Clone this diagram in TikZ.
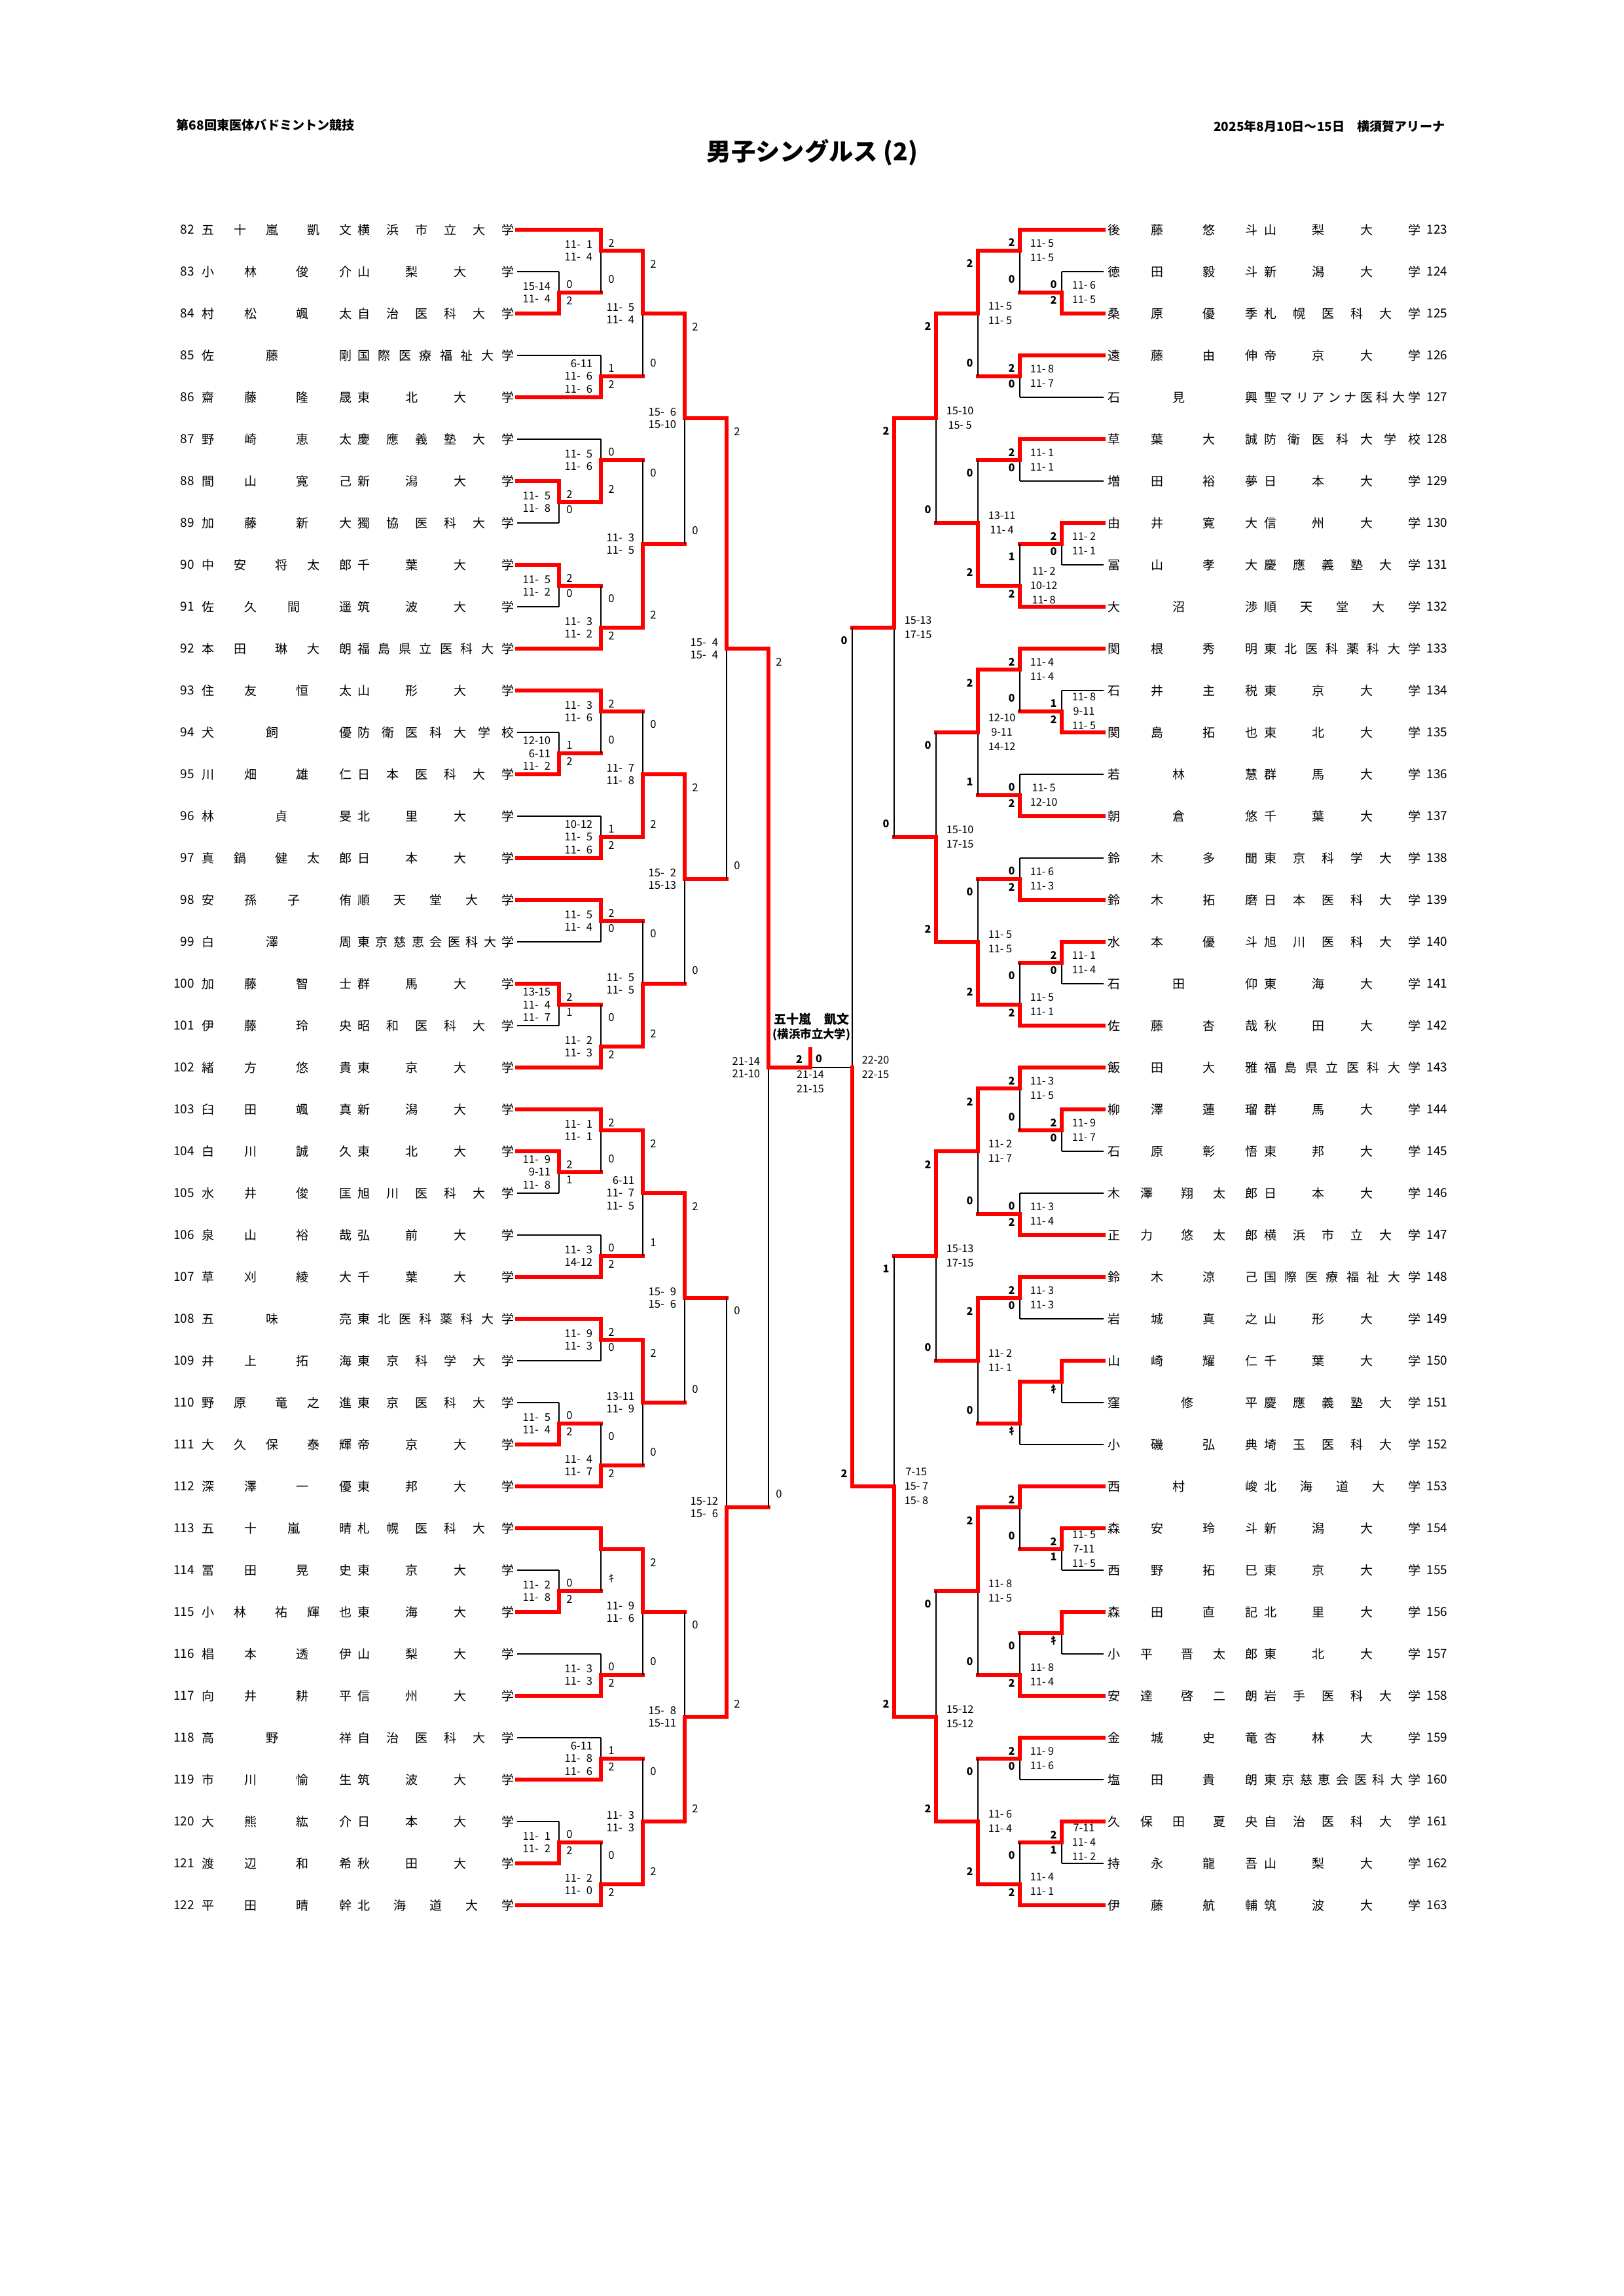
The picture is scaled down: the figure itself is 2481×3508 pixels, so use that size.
\documentclass[tikz,border=0pt]{standalone}
\usepackage{fontspec}
\setmainfont{Noto Sans CJK JP}

% spread the characters of a name over a fixed box, as the sheet does
\makeatletter
\def\spreadchars#1{\spread@step#1\relax}
\def\spread@step#1#2{#1\ifx\relax#2\else\hfill\expandafter\spread@step\expandafter#2\fi}
\makeatother
\newcommand\playername[2]{\hbox to 19.389mm{\expandafter\spreadchars\expandafter{#1}\hfill\kern1.164mm\expandafter\spreadchars\expandafter{#2}}}
\newcommand\schoolname[1]{\hbox to 20.278mm{\expandafter\spreadchars\expandafter{#1}}}

\begin{document}
\begin{tikzpicture}[x=0.0846667mm, y=-0.0846667mm,
  won/.style={draw=red, line width=1.35pt, line cap=rect},
  lost/.style={draw=black, line width=0.4pt},
  namefont/.style={inner sep=0pt, font=\fontsize{4.58}{5}\selectfont},
  lgame/.style={inner sep=0pt, font=\fontsize{4}{5}\selectfont},
  rgame/.style={inner sep=0pt, font=\fontsize{3.9}{5}\selectfont\bfseries},
  lscore/.style={inner sep=0pt, anchor=east, align=right, font={\fontsize{4}{4.6}\selectfont\spaceskip=0.553em\relax}},
  rscore/.style={inner sep=0pt, anchor=west, align=center, font=\fontsize{3.9}{5.3}\selectfont},
]
\useasboundingbox (0,0) rectangle (2481,3508);

% heading
\node[anchor=west, inner sep=0pt, font=\fontsize{4.6}{5}\selectfont\bfseries] (event) at (269,191) {第68回東医体バドミントン競技};
\node[anchor=east, inner sep=0pt, font=\fontsize{4.6}{5}\selectfont\bfseries] (venue) at (2208,193) {2025年8月10日～15日　横須賀アリーナ};
\node[inner sep=0pt, font=\fontsize{9}{10}\selectfont\bfseries] (title) at (1241,233) {男子シングルス (2)};

% left half: players
\foreach \rowno/\famn/\givn/\univ/\lev/\res in {
 82/五十嵐/凱文/横浜市立大学/2/won, 83/小林/俊介/山梨大学/1/lost,
 84/村松/颯太/自治医科大学/1/won, 85/佐藤/剛/国際医療福祉大学/2/lost,
 86/齋藤/隆晟/東北大学/2/won, 87/野崎/恵太/慶應義塾大学/2/lost,
 88/間山/寛己/新潟大学/1/won, 89/加藤/新大/獨協医科大学/1/lost,
 90/中安/将太郎/千葉大学/1/won, 91/佐久間/遥/筑波大学/1/lost,
 92/本田/琳大朗/福島県立医科大学/2/won, 93/住友/恒太/山形大学/2/won,
 94/犬飼/優/防衛医科大学校/1/lost, 95/川畑/雄仁/日本医科大学/1/won,
 96/林/貞旻/北里大学/2/lost, 97/真鍋/健太郎/日本大学/2/won,
 98/安孫子/侑/順天堂大学/2/won, 99/白澤/周/東京慈恵会医科大学/2/lost,
 100/加藤/智士/群馬大学/1/won, 101/伊藤/玲央/昭和医科大学/1/lost,
 102/緒方/悠貴/東京大学/2/won, 103/臼田/颯真/新潟大学/2/won,
 104/白川/誠久/東北大学/1/won, 105/水井/俊匡/旭川医科大学/1/lost,
 106/泉山/裕哉/弘前大学/2/lost, 107/草刈/綾大/千葉大学/2/won,
 108/五味/亮/東北医科薬科大学/2/won, 109/井上/拓海/東京科学大学/2/lost,
 110/野原/竜之進/東京医科大学/1/lost, 111/大久保/泰輝/帝京大学/1/won,
 112/深澤/一優/東邦大学/2/won, 113/五十嵐/晴/札幌医科大学/2/won,
 114/冨田/晃史/東京大学/1/lost, 115/小林/祐輝也/東海大学/1/won,
 116/椙本/透伊/山梨大学/2/lost, 117/向井/耕平/信州大学/2/won,
 118/高野/祥/自治医科大学/2/lost, 119/市川/愉生/筑波大学/2/won,
 120/大熊/紘介/日本大学/1/lost, 121/渡辺/和希/秋田大学/1/won,
 122/平田/晴幹/北海道大学/2/won}{
  \pgfmathsetmacro\yy{351+64*(\rowno-82)}
  \node[namefont, anchor=east] (no\rowno) at (297.5,\yy) {\rowno};
  \node[namefont, anchor=west] (pl\rowno) at (307.5,\yy) {\playername{\famn}{\givn}};
  \node[namefont, anchor=west] (un\rowno) at (545.5,\yy) {\schoolname{\univ}};
  \draw[\res] (790,\yy) -- ({790+64*\lev},\yy);
}

% right half: players
\foreach \rowno/\famn/\givn/\univ/\lev/\res in {
 123/後藤/悠斗/山梨大学/2/won, 124/徳田/毅斗/新潟大学/1/lost,
 125/桑原/優季/札幌医科大学/1/won, 126/遠藤/由伸/帝京大学/2/won,
 127/石見/興/聖マリアンナ医科大学/2/lost, 128/草葉/大誠/防衛医科大学校/2/won,
 129/増田/裕夢/日本大学/2/lost, 130/由井/寛大/信州大学/1/won,
 131/冨山/孝大/慶應義塾大学/1/lost, 132/大沼/渉/順天堂大学/2/won,
 133/関根/秀明/東北医科薬科大学/2/won, 134/石井/主税/東京大学/1/lost,
 135/関島/拓也/東北大学/1/won, 136/若林/慧/群馬大学/2/lost,
 137/朝倉/悠/千葉大学/2/won, 138/鈴木/多聞/東京科学大学/2/lost,
 139/鈴木/拓磨/日本医科大学/2/won, 140/水本/優斗/旭川医科大学/1/won,
 141/石田/仰/東海大学/1/lost, 142/佐藤/杏哉/秋田大学/2/won,
 143/飯田/大雅/福島県立医科大学/2/won, 144/柳澤/蓮瑠/群馬大学/1/won,
 145/石原/彰悟/東邦大学/1/lost, 146/木澤/翔太郎/日本大学/2/lost,
 147/正力/悠太郎/横浜市立大学/2/won, 148/鈴木/涼己/国際医療福祉大学/2/won,
 149/岩城/真之/山形大学/2/lost, 150/山崎/耀仁/千葉大学/1/won,
 151/窪/修平/慶應義塾大学/1/lost, 152/小磯/弘典/埼玉医科大学/2/lost,
 153/西村/峻/北海道大学/2/won, 154/森安/玲斗/新潟大学/1/won,
 155/西野/拓巳/東京大学/1/lost, 156/森田/直記/北里大学/1/won,
 157/小平/晋太郎/東北大学/1/lost, 158/安達/啓二朗/岩手医科大学/2/won,
 159/金城/史竜/杏林大学/2/won, 160/塩田/貴朗/東京慈恵会医科大学/2/lost,
 161/久保田/夏央/自治医科大学/1/won, 162/持永/龍吾/山梨大学/1/lost,
 163/伊藤/航輔/筑波大学/2/won}{
  \pgfmathsetmacro\yy{351+64*(\rowno-123)}
  \node[namefont, anchor=west] (no\rowno) at (2179,\yy) {\rowno};
  \node[namefont, anchor=west] (pl\rowno) at (1692.1,\yy) {\playername{\famn}{\givn}};
  \node[namefont, anchor=west] (un\rowno) at (1930.4,\yy) {\schoolname{\univ}};
  \draw[\res] (1686,\yy) -- ({1686-64*\lev},\yy);
}

% left half: matches (round / winner slot / loser slot / joint / games top / games bottom / scores)
\foreach \k/\ws/\ls/\jn/\gtop/\gbot/\scores [count=\i] in {
 1/2/1/1.5/0/2/{15-14\\11- 4}, 2/0/1.5/0.5/2/0/{11- 1\\11- 4},
 2/4/3/3.5/1/2/{6-11\\11- 6\\11- 6}, 3/0.5/3.5/2/2/0/{11- 5\\11- 4},
 1/6/7/6.5/2/0/{11- 5\\11- 8}, 2/6.5/5/5.5/0/2/{11- 5\\11- 6},
 1/8/9/8.5/2/0/{11- 5\\11- 2}, 2/10/8.5/9.5/0/2/{11- 3\\11- 2},
 3/9.5/5.5/7.5/0/2/{11- 3\\11- 5}, 4/2/7.5/4.5/2/0/{15- 6\\15-10},
 1/13/12/12.5/1/2/{12-10\\6-11\\11- 2}, 2/11/12.5/11.5/2/0/{11- 3\\11- 6},
 2/15/14/14.5/1/2/{10-12\\11- 5\\11- 6}, 3/14.5/11.5/13/0/2/{11- 7\\11- 8},
 2/16/17/16.5/2/0/{11- 5\\11- 4}, 1/18/19/18.5/2/1/{13-15\\11- 4\\11- 7},
 2/20/18.5/19.5/0/2/{11- 2\\11- 3}, 3/19.5/16.5/18/0/2/{11- 5\\11- 5},
 4/13/18/15.5/2/0/{15- 2\\15-13}, 5/4.5/15.5/10/2/0/{15- 4\\15- 4},
 1/22/23/22.5/2/1/{11- 9\\9-11\\11- 8}, 2/21/22.5/21.5/2/0/{11- 1\\11- 1},
 2/25/24/24.5/0/2/{11- 3\\14-12}, 3/21.5/24.5/23/2/1/{6-11\\11- 7\\11- 5},
 2/26/27/26.5/2/0/{11- 9\\11- 3}, 1/29/28/28.5/0/2/{11- 5\\11- 4},
 2/30/28.5/29.5/0/2/{11- 4\\11- 7}, 3/26.5/29.5/28/2/0/{13-11\\11- 9},
 4/23/28/25.5/2/0/{15- 9\\15- 6}, 1/33/32/32.5/0/2/{11- 2\\11- 8},
 2/31/32.5/31.5/{}/ｷ/{}, 2/35/34/34.5/0/2/{11- 3\\11- 3},
 3/31.5/34.5/33/2/0/{11- 9\\11- 6}, 2/37/36/36.5/1/2/{6-11\\11- 8\\11- 6},
 1/39/38/38.5/0/2/{11- 1\\11- 2}, 2/40/38.5/39.5/0/2/{11- 2\\11- 0},
 3/39.5/36.5/38/0/2/{11- 3\\11- 3}, 4/38/33/35.5/0/2/{15- 8\\15-11},
 5/35.5/25.5/30.5/0/2/{15-12\\15- 6}, 6/10/30.5/20/2/0/{21-14\\21-10}}{
  \pgfmathsetmacro\xx{790+64*\k}
  \pgfmathsetmacro\yw{351+64*\ws}
  \pgfmathsetmacro\yl{351+64*\ls}
  \pgfmathsetmacro\yj{351+64*\jn}
  \pgfmathsetmacro\ya{351+64*min(\ws,\ls)+20}
  \pgfmathsetmacro\yb{351+64*max(\ws,\ls)-20}
  \draw[lost] (\xx,\yl) -- (\xx,\yj);
  \draw[won] (\xx,\yw) -- (\xx,\yj) -- ({\xx+64},\yj);
  \node[lgame] (lgt\i) at ({\xx+16},\ya) {\gtop};
  \node[lgame] (lgb\i) at ({\xx+16},\yb) {\gbot};
  \node[lscore] (lsc\i) at ({\xx-12},\yj) {\scores};
}

% right half: matches
\foreach \k/\ws/\ls/\jn/\gtop/\gbot/\scores [count=\i] in {
 1/2/1/1.5/0/2/{11- 6\\11- 5}, 2/0/1.5/0.5/2/0/{11- 5\\11- 5},
 2/3/4/3.5/2/0/{11- 8\\11- 7}, 3/0.5/3.5/2/2/0/{11- 5\\11- 5},
 2/5/6/5.5/2/0/{11- 1\\11- 1}, 1/7/8/7.5/2/0/{11- 2\\11- 1},
 2/9/7.5/8.5/1/2/{11- 2\\10-12\\11- 8}, 3/8.5/5.5/7/0/2/{13-11\\11- 4},
 4/2/7/4.5/2/0/{15-10\\15- 5}, 1/12/11/11.5/1/2/{11- 8\\9-11\\11- 5},
 2/10/11.5/10.5/2/0/{11- 4\\11- 4}, 2/14/13/13.5/0/2/{11- 5\\12-10},
 3/10.5/13.5/12/2/1/{12-10\\9-11\\14-12}, 2/16/15/15.5/0/2/{11- 6\\11- 3},
 1/17/18/17.5/2/0/{11- 1\\11- 4}, 2/19/17.5/18.5/0/2/{11- 5\\11- 1},
 3/18.5/15.5/17/0/2/{11- 5\\11- 5}, 4/17/12/14.5/0/2/{15-10\\17-15},
 5/4.5/14.5/9.5/2/0/{15-13\\17-15}, 1/21/22/21.5/2/0/{11- 9\\11- 7},
 2/20/21.5/20.5/2/0/{11- 3\\11- 5}, 2/24/23/23.5/0/2/{11- 3\\11- 4},
 3/20.5/23.5/22/2/0/{11- 2\\11- 7}, 2/25/26/25.5/2/0/{11- 3\\11- 3},
 1/27/28/27.5/{}/ｷ/{}, 2/27.5/29/28.5/{}/ｷ/{},
 3/25.5/28.5/27/2/0/{11- 2\\11- 1}, 4/22/27/24.5/2/0/{15-13\\17-15},
 1/31/32/31.5/2/1/{11- 5\\7-11\\11- 5}, 2/30/31.5/30.5/2/0/{},
 1/33/34/33.5/{}/ｷ/{}, 2/35/33.5/34.5/0/2/{11- 8\\11- 4},
 3/30.5/34.5/32.5/2/0/{11- 8\\11- 5}, 2/36/37/36.5/2/0/{11- 9\\11- 6},
 1/38/39/38.5/2/1/{7-11\\11- 4\\11- 2}, 2/40/38.5/39.5/0/2/{11- 4\\11- 1},
 3/39.5/36.5/38/0/2/{11- 6\\11- 4}, 4/38/32.5/35.5/0/2/{15-12\\15-12},
 5/35.5/24.5/30/1/2/{7-15\\15- 7\\15- 8}}{
  \pgfmathsetmacro\xx{1686-64*\k}
  \pgfmathsetmacro\yw{351+64*\ws}
  \pgfmathsetmacro\yl{351+64*\ls}
  \pgfmathsetmacro\yj{351+64*\jn}
  \pgfmathsetmacro\ya{351+64*min(\ws,\ls)+20}
  \pgfmathsetmacro\yb{351+64*max(\ws,\ls)-20}
  \draw[lost] (\xx,\yl) -- (\xx,\yj);
  \draw[won] (\xx,\yw) -- (\xx,\yj) -- ({\xx-64},\yj);
  \node[rgame] (rgt\i) at ({\xx-12.5},\ya) {\gtop};
  \node[rgame] (rgb\i) at ({\xx-12.5},\yb) {\gbot};
  \node[rscore] (rsc\i) at ({\xx+15},\yj) {\scores};
}

% right semi-final
\draw[lost] (1302,959) -- (1302,1631) -- (1238,1631);
\draw[won] (1302,2271) -- (1302,1631);
\node[rgame] (sfa) at (1289.5,979) {0};
\node[rgame] (sfb) at (1289.5,2251) {2};
\node[rscore] (sfs) at (1316,1631) {22-20\\22-15};

% final
\draw[won] (1238,1631) -- (1238,1603);
\node[rgame] (fwin) at (1221,1618) {2};
\node[rgame] (flos) at (1251,1618) {0};
\node[rscore, anchor=center] (fsc) at (1238,1653) {21-14\\21-15};
\node[inner sep=0pt, font=\fontsize{4.6}{5}\selectfont\bfseries] (champ) at (1240,1557) {五十嵐　凱文};
\node[inner sep=0pt, font=\fontsize{4.2}{5}\selectfont\bfseries] (champu) at (1240,1581) {(横浜市立大学)};
\end{tikzpicture}
\end{document}
